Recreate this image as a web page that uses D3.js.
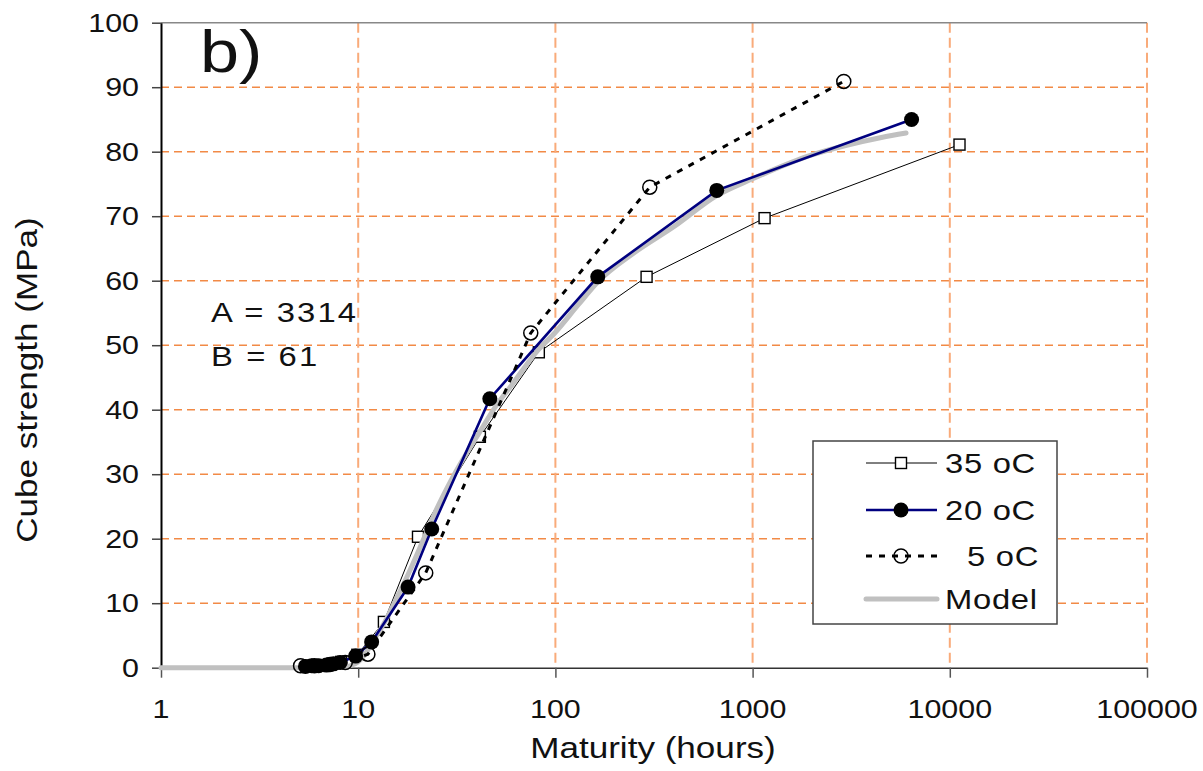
<!DOCTYPE html>
<html>
<head>
<meta charset="utf-8">
<script src="https://cdn.jsdelivr.net/npm/d3@7"></script>
<style>
  html, body { margin: 0; padding: 0; background: #fff; }
  svg { display: block; }
  text { font-family: "Liberation Sans", Arial, sans-serif; fill: #111; }
</style>
</head>
<body>
<svg id="chart" width="1203" height="771"></svg>
<script>
// Maturity (hours) vs cube strength (MPa) for three curing temperatures
const series35 = [
  [5.6, 0.3], [6.1, 0.3], [6.7, 0.4], [7.4, 0.6], [8.2, 0.9], [9.9, 2.0],
  [13.5, 7.1], [20.1, 20.3], [41.4, 35.8], [82.4, 48.9], [290, 60.6],
  [1150, 69.7], [11200, 81.1]
];
const series20 = [
  [5.4, 0.2], [5.8, 0.3], [6.3, 0.3], [6.9, 0.4], [7.5, 0.6], [8.1, 0.8],
  [9.7, 1.8], [11.7, 4.0], [17.9, 12.5], [23.6, 21.5], [46.5, 41.7],
  [164, 60.6], [658, 74.0], [6400, 85.0]
];
const series5 = [
  [5.1, 0.3], [6.0, 0.3], [7.2, 0.5], [8.6, 0.8], [11.2, 2.1], [22.0, 14.7],
  [75, 51.9], [301, 74.5], [2900, 90.9]
];
const modelCurve = [
  [1, 0], [5, 0], [8, 0.05], [9, 0.25], [10, 0.9], [11, 2.4], [12, 4.3],
  [13.65, 7.1], [15, 9.6], [18, 14.6], [21.8, 20.4], [25, 24.6], [30, 29.4],
  [41.4, 36.6], [50, 40.6], [60, 43.8], [82, 49.3], [100, 52.0], [130, 56.2],
  [164, 59.8], [250, 64.3], [400, 68.4], [658, 73.2], [1000, 75.8],
  [2000, 79.5], [3000, 81.0], [4500, 82.2], [6000, 82.9]
];
const xTicks = [1, 10, 100, 1000, 10000, 100000];
const xTickLabels = ["1", "10", "100", "1000", "10000", "100000"];
const yTicks = [0, 10, 20, 30, 40, 50, 60, 70, 80, 90, 100];
const legendLabels = ["35 oC", "20 oC", " 5 oC", "Model"];
const modelParams = ["A = 3314", "B = 61"];

const svg = d3.select("#chart");
const x = d3.scaleLog().domain([1, 100000]).range([161, 1147]);
const y = d3.scaleLinear().domain([0, 100]).range([667.7, 22.7]);
const SX = 1.17; // horizontal stretch of the lettering

function label(g, tx, ty, str, size, anchor, rot, spacing) {
  const t = g.append("text")
    .attr("transform", `translate(${tx},${ty})` + (rot ? ` rotate(${rot})` : "") + ` scale(${SX},1)`)
    .attr("font-size", size)
    .attr("text-anchor", anchor || "start")
    .text(str);
  if (spacing) t.attr("letter-spacing", spacing);
  return t;
}

// gridlines
const grid = svg.append("g");
grid.selectAll("line.h").data(yTicks.filter(d => d > 0 && d < 100)).join("line")
  .attr("x1", x(1)).attr("x2", x(100000))
  .attr("y1", d => y(d)).attr("y2", d => y(d))
  .attr("stroke", "#f28a46").attr("stroke-width", 1.4)
  .attr("stroke-dasharray", "8,5");
grid.selectAll("line.v").data(xTicks.slice(1)).join("line")
  .attr("x1", d => x(d)).attr("x2", d => x(d))
  .attr("y1", y(100)).attr("y2", y(0))
  .attr("stroke", "#f9ab7a").attr("stroke-width", 2)
  .attr("stroke-dasharray", "10,5");
// top border
grid.append("line")
  .attr("x1", x(1)).attr("x2", x(100000))
  .attr("y1", y(100)).attr("y2", y(100))
  .attr("stroke", "#888").attr("stroke-width", 1.5);

// axes
const xAxis = d3.axisBottom(x).tickValues(xTicks).tickFormat("").tickSize(10).tickSizeOuter(0);
const gx = svg.append("g").attr("transform", `translate(0,${y(0)})`).call(xAxis);
gx.select(".domain").attr("stroke", "#333").attr("stroke-width", 1.5);
gx.selectAll(".tick line").attr("stroke", "#555").attr("stroke-width", 1.5);

const yAxis = d3.axisLeft(y).tickValues(yTicks).tickFormat("").tickSize(9).tickSizeOuter(0);
const gy = svg.append("g").attr("transform", `translate(${x(1)},0)`).call(yAxis);
gy.select(".domain").attr("stroke", "#000").attr("stroke-width", 2);
gy.selectAll(".tick line").attr("stroke", "#444").attr("stroke-width", 1.5);

const labels = svg.append("g");
xTicks.forEach((d, i) => label(labels, x(d), 718, xTickLabels[i], 26, "middle"));
yTicks.forEach(d => label(labels, 139, y(d) + 9, String(d), 26, "end"));
label(labels, 653, 758, "Maturity (hours)", 30, "middle");
label(labels, 37, 380, "Cube strength (MPa)", 30, "middle", -90);

const line = d3.line().x(d => x(d[0])).y(d => y(d[1]));

// 35 oC
const g35 = svg.append("g");
g35.append("path").datum(series35).attr("d", line)
  .attr("fill", "none").attr("stroke", "#000").attr("stroke-width", 1);
g35.selectAll("rect").data(series35).join("rect")
  .attr("x", d => x(d[0]) - 5.5).attr("y", d => y(d[1]) - 5.5)
  .attr("width", 11).attr("height", 11)
  .attr("fill", "#fff").attr("stroke", "#000").attr("stroke-width", 1.4);

// Model
svg.append("path").datum(modelCurve)
  .attr("d", d3.line().x(d => x(d[0])).y(d => y(d[1])).curve(d3.curveMonotoneX))
  .attr("fill", "none").attr("stroke", "#c0c0c0").attr("stroke-width", 5)
  .attr("stroke-linecap", "round");

// 20 oC
const g20 = svg.append("g");
g20.append("path").datum(series20).attr("d", line)
  .attr("fill", "none").attr("stroke", "#000080").attr("stroke-width", 2.6);
g20.selectAll("circle").data(series20).join("circle")
  .attr("cx", d => x(d[0])).attr("cy", d => y(d[1])).attr("r", 7.5)
  .attr("fill", "#000");

// 5 oC
const g5 = svg.append("g");
g5.append("path").datum(series5).attr("d", line)
  .attr("fill", "none").attr("stroke", "#000").attr("stroke-width", 3)
  .attr("stroke-dasharray", "6,7");
g5.selectAll("circle").data(series5).join("circle")
  .attr("cx", d => x(d[0])).attr("cy", d => y(d[1])).attr("r", 7)
  .attr("fill", "none").attr("stroke", "#000").attr("stroke-width", 1.5);

// annotations
label(svg, 200, 72, "b)", 60, "start");
label(svg, 211, 322, modelParams[0], 28, "start", 0, 1.8);
label(svg, 211, 366, modelParams[1], 28, "start", 0, 1.8);

// legend
const lg = svg.append("g");
lg.append("rect").attr("x", 813).attr("y", 441).attr("width", 244).attr("height", 183)
  .attr("fill", "#fff").attr("stroke", "#444").attr("stroke-width", 1.5);
const rows = [463, 510, 556, 599];
const lx1 = 866, lx2 = 937, lm = 901;
lg.append("line").attr("x1", lx1).attr("x2", lx2).attr("y1", rows[0]).attr("y2", rows[0])
  .attr("stroke", "#000").attr("stroke-width", 1);
lg.append("rect").attr("x", lm - 5.5).attr("y", rows[0] - 5.5).attr("width", 11).attr("height", 11)
  .attr("fill", "#fff").attr("stroke", "#000").attr("stroke-width", 1.4);
lg.append("line").attr("x1", lx1).attr("x2", lx2).attr("y1", rows[1]).attr("y2", rows[1])
  .attr("stroke", "#000080").attr("stroke-width", 2.6);
lg.append("circle").attr("cx", lm).attr("cy", rows[1]).attr("r", 7.5).attr("fill", "#000");
lg.append("line").attr("x1", lx1).attr("x2", lx2).attr("y1", rows[2]).attr("y2", rows[2])
  .attr("stroke", "#000").attr("stroke-width", 3).attr("stroke-dasharray", "6,7");
lg.append("circle").attr("cx", lm).attr("cy", rows[2]).attr("r", 7)
  .attr("fill", "none").attr("stroke", "#000").attr("stroke-width", 1.5);
lg.append("line").attr("x1", lx1).attr("x2", lx2).attr("y1", rows[3]).attr("y2", rows[3])
  .attr("stroke", "#c0c0c0").attr("stroke-width", 5).attr("stroke-linecap", "round");
legendLabels.forEach((s, i) => {
  label(lg, s.startsWith(" ") ? 967 : 945, rows[i] + 10, s.trim(), 28, "start", 0, 0.6);
});
</script>
</body>
</html>
